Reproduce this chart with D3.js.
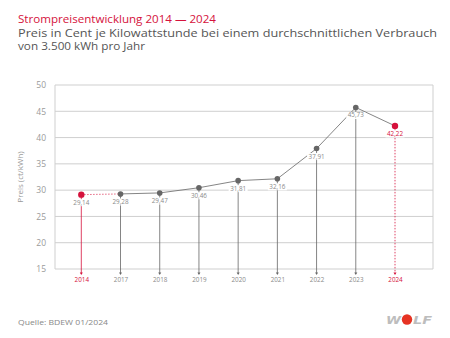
<!DOCTYPE html>
<html><head><meta charset="utf-8">
<script src="https://cdn.jsdelivr.net/npm/d3@7"></script>
<style>html,body{margin:0;padding:0;background:#fff;}svg{display:block;}</style>
</head><body>
<svg id="c" width="450" height="338"></svg>
<script>
const years = ["2014","2017","2018","2019","2020","2021","2022","2023","2024"];
const prices = [29.14, 29.28, 29.47, 30.46, 31.81, 32.16, 37.91, 45.73, 42.22];
const labels = ["29,14","29,28","29,47","30,46","31,81","32,16","37,91","45,73","42,22"];
const yTicks = [15,20,25,30,35,40,45,50];
const highlight = ["2014","2024"];

const RED = "#d5123c", GRAY = "#666", GRID = "#cfcfcf";
const font = "'Open Sans', Roboto, sans-serif";
const svg = d3.select("#c");

const L = 55, R = 433, T = 85, B = 269;
const x = d3.scalePoint().domain(years).range([81.3, 395]);
const y = d3.scaleLinear().domain([15,50]).range([B, T]);

// titles
svg.append("text").attr("x",18).attr("y",22.5).attr("fill",RED)
  .attr("font-family",font).attr("font-size",11.5)
  .attr("textLength",198).attr("lengthAdjust","spacingAndGlyphs")
  .text("Strompreisentwicklung 2014 — 2024");
svg.append("text").attr("x",18).attr("y",36.5).attr("fill","#555")
  .attr("font-family",font).attr("font-size",11.5)
  .attr("textLength",419).attr("lengthAdjust","spacingAndGlyphs")
  .text("Preis in Cent je Kilowattstunde bei einem durchschnittlichen Verbrauch");
svg.append("text").attr("x",18).attr("y",50).attr("fill","#555")
  .attr("font-family",font).attr("font-size",11.5)
  .attr("textLength",127).attr("lengthAdjust","spacingAndGlyphs")
  .text("von 3.500 kWh pro Jahr");

// grid
const g = svg.append("g");
g.selectAll("line.grid").data(yTicks).join("line")
  .attr("x1",L).attr("x2",R).attr("y1",d=>y(d)).attr("y2",d=>y(d))
  .attr("stroke",GRID).attr("stroke-width",1);
g.append("line").attr("x1",L).attr("x2",L).attr("y1",T).attr("y2",B).attr("stroke",GRID);
g.append("line").attr("x1",R).attr("x2",R).attr("y1",T).attr("y2",B).attr("stroke",GRID);

// y axis
const yAxis = d3.axisLeft(y).tickValues(yTicks).tickSize(0).tickPadding(9);
const ya = svg.append("g").attr("transform",`translate(${L},0)`).call(yAxis);
ya.select(".domain").remove();
ya.selectAll("text").attr("font-family",font).attr("font-size",8.5).attr("fill","#9a9a9a");

svg.append("text").attr("transform",`translate(23,${(T+B)/2}) rotate(-90)`)
  .attr("text-anchor","middle").attr("font-family",font).attr("font-size",8)
  .attr("fill","#9a9a9a").text("Preis (ct/kWh)");

// x axis labels
const xAxis = d3.axisBottom(x).tickSize(0).tickPadding(0);
const xa = svg.append("g").attr("transform",`translate(0,278)`).call(xAxis);
xa.select(".domain").remove();
xa.selectAll("text").attr("font-family",font).attr("font-size",6.3)
  .attr("fill",d=>highlight.includes(d)?RED:"#8a8a8a");

const data = years.map((yr,i)=>({yr, v:prices[i], lab:labels[i], hi:highlight.includes(yr)}));

// stems
svg.selectAll("line.stem").data(data).join("line")
  .attr("x1",d=>x(d.yr)).attr("x2",d=>x(d.yr))
  .attr("y1",d=>y(d.v)).attr("y2",273.5)
  .attr("stroke",d=>d.hi?RED:GRAY).attr("stroke-width",0.8)
  .attr("stroke-dasharray",d=>d.yr==="2024"?"1.5,1.5":null);
svg.selectAll("path.tip").data(data).join("path")
  .attr("d",d=>{const cx=x(d.yr);return `M${cx-1.5},272.5 L${cx+1.5},272.5 L${cx},275 Z`;})
  .attr("fill",d=>d.hi?RED:GRAY);

// connecting line
for(let i=0;i<data.length-1;i++){
  const a=data[i], b=data[i+1];
  const dotted = a.yr==="2014";
  svg.append("line").attr("x1",x(a.yr)).attr("y1",y(a.v)).attr("x2",x(b.yr)).attr("y2",y(b.v))
    .attr("stroke",dotted?RED:GRAY).attr("stroke-width",0.8)
    .attr("stroke-dasharray",dotted?"1.2,1.8":null);
}

// value labels
const lg = svg.selectAll("g.lab").data(data).join("g")
  .attr("transform",d=>`translate(${x(d.yr)},${y(d.v)+10})`);
lg.append("rect").attr("x",-9.5).attr("y",-5.5).attr("width",19).attr("height",7).attr("fill","#fff");
lg.append("text").attr("text-anchor","middle").attr("font-family",font).attr("font-size",6.3)
  .attr("fill",d=>d.yr==="2024"?RED:"#8a8a8a").text(d=>d.lab);

// points
svg.selectAll("circle.pt").data(data).join("circle")
  .attr("cx",d=>x(d.yr)).attr("cy",d=>y(d.v)).attr("r",d=>d.hi?3.2:2.8)
  .attr("fill",d=>d.hi?RED:GRAY);

// footer
svg.append("text").attr("x",18).attr("y",325).attr("font-family",font).attr("font-size",7.5)
  .attr("fill","#888").attr("textLength",90).attr("lengthAdjust","spacingAndGlyphs")
  .text("Quelle: BDEW 01/2024");

// logo
const logo = svg.append("g");
logo.append("text").attr("x",386).attr("y",324).attr("font-family","'DejaVu Sans', sans-serif")
  .attr("font-weight","bold").attr("font-style","italic").attr("font-size",11).attr("fill","#bdbdbd")
  .attr("textLength",15).attr("lengthAdjust","spacingAndGlyphs").text("W");
logo.append("circle").attr("cx",407).attr("cy",319.5).attr("r",5.2).attr("fill","#e63323");
logo.append("text").attr("x",413).attr("y",324).attr("font-family","'DejaVu Sans', sans-serif")
  .attr("font-weight","bold").attr("font-style","italic").attr("font-size",11).attr("fill","#bdbdbd")
  .attr("textLength",19).attr("lengthAdjust","spacingAndGlyphs").text("LF");
</script>
</body></html>
